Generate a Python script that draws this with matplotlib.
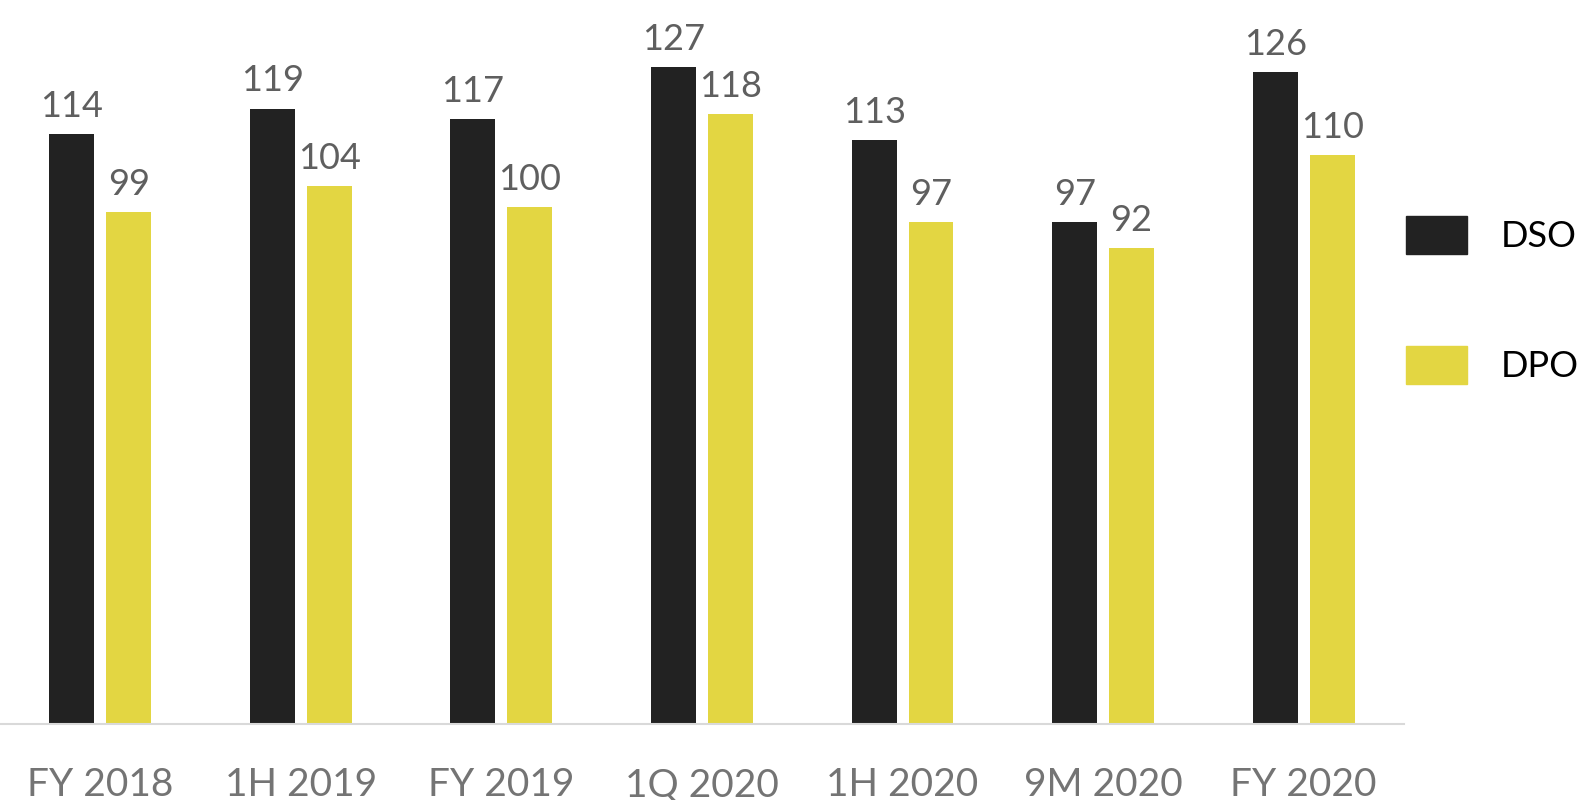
import matplotlib.pyplot as plt
import numpy as np
from matplotlib.patches import Patch

plt.rcParams["font.family"] = ["Lato", "DejaVu Sans"]

periods = ["FY 2018", "1H 2019", "FY 2019", "1Q 2020", "1H 2020", "9M 2020", "FY 2020"]
dso = [114, 119, 117, 127, 113, 97, 126]
dpo = [99, 104, 100, 118, 97, 92, 110]

DSO_COLOR = "#222222"
DPO_COLOR = "#e3d642"

fig = plt.figure(figsize=(15.9, 8.0), dpi=100)
ax = fig.add_axes([0.0, 0.095, 0.883, 0.905])

x = np.arange(len(periods))
width = 0.224
offset = 0.142

b1 = ax.bar(x - offset, dso, width, color=DSO_COLOR)
b2 = ax.bar(x + offset, dpo, width, color=DPO_COLOR)

for bars in (b1, b2):
    ax.bar_label(bars, padding=8, fontsize=26, color="#5f5f5f")

ax.set_xlim(-0.5, 6.5)
ax.set_ylim(0, 140)
ax.set_xticks(x)
ax.set_xticklabels(periods, fontsize=28, color="#747474")
ax.tick_params(axis="x", length=0, pad=31)
ax.set_yticks([])

for side in ["top", "left", "right"]:
    ax.spines[side].set_visible(False)
ax.spines["bottom"].set_color("#d9d9d9")
ax.spines["bottom"].set_linewidth(1.5)

handles = [Patch(color=DSO_COLOR, label="DSO"), Patch(color=DPO_COLOR, label="DPO")]
fig.legend(
    handles=handles,
    loc="center left",
    bbox_to_anchor=(0.864, 0.625),
    frameon=False,
    fontsize=26,
    handlelength=1.68,
    handleheight=1.25,
    handletextpad=0.95,
    labelspacing=2.55,
)

fig.savefig("out.png", dpi=100)
